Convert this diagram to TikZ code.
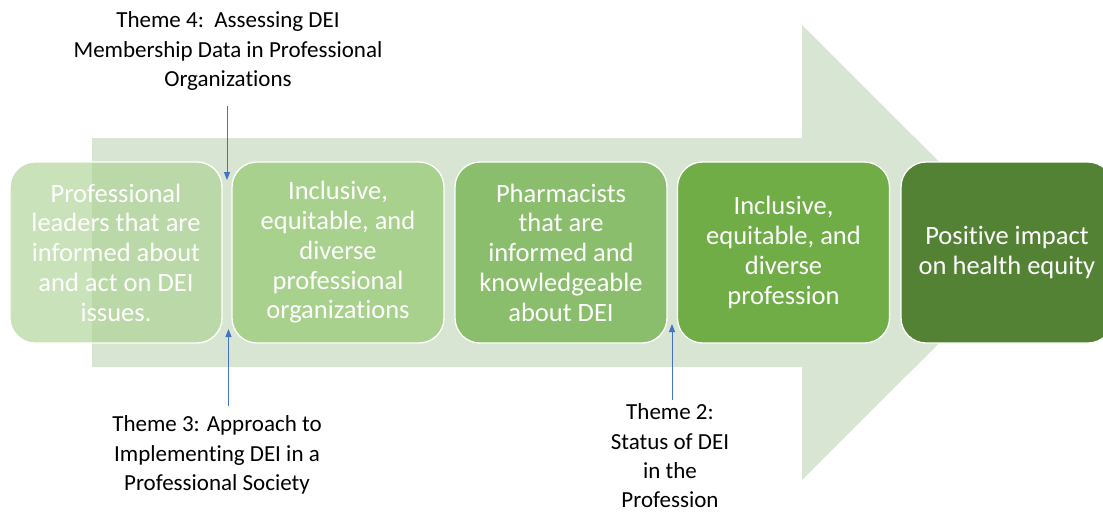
\documentclass[tikz,border=0pt]{standalone}
\usepackage{fontspec}
\setmainfont{Carlito}[Ligatures=NoCommon]
\usetikzlibrary{arrows.meta}
\definecolor{arrowfill}{RGB}{217,229,211}
\definecolor{boxA}{RGB}{169,209,142}
\definecolor{boxB}{RGB}{169,209,142}
\definecolor{boxC}{RGB}{138,190,108}
\definecolor{boxD}{RGB}{112,173,71}
\definecolor{boxE}{RGB}{84,130,53}
\definecolor{pointerblue}{RGB}{68,114,196}
\begin{document}
\begin{tikzpicture}[x=1pt,y=-1pt,
  box/.style={draw=white, line width=1.3pt, rounded corners=25pt, minimum width=212pt, minimum height=181pt, inner sep=0pt, text=white, align=center, font=\fontsize{26.5}{29.75}\selectfont},
  theme/.style={align=center, text=black, font=\fontsize{23}{29.3}\selectfont, inner sep=0pt},
  pointer/.style={draw=pointerblue, line width=0.9pt, -{Triangle[length=8pt,width=6pt]}}]
\useasboundingbox (0,0) rectangle (1103,512);
% big background arrow
\fill[arrowfill] (92,138) -- (802,138) -- (802,25) -- (1030,252.5) -- (802,480) -- (802,367) -- (92,367) -- cycle;
% boxes
\node[box, fill=boxA, fill opacity=0.62, text opacity=1] (b1) at (116,252.5) {Professional\\leaders that are\\informed about\\and act on DEI\\issues.};
\node[box, fill=boxB] (b2) at (338,252.5) {Inclusive,\\equitable, and\\diverse\\professional\\organizations};
\node[box, fill=boxC] (b3) at (561,252.5) {Pharmacists\\that are\\informed and\\knowledgeable\\about DEI};
\node[box, fill=boxD] (b4) at (783.5,252.5) {Inclusive,\\equitable, and\\diverse\\profession};
\node[box, fill=boxE] (b5) at (1007,252.5) {Positive impact\\on health equity};
% theme labels
\node[theme] (t4) at (228,51) {Theme 4:\ \ Assessing DEI\\Membership Data in Professional\\Organizations};
\node[theme] (t3) at (217,455) {Theme 3: Approach to\\Implementing DEI in a\\Professional Society};
\node[theme] (t2) at (670,456) {Theme 2:\\Status of DEI\\in the\\Profession};
% pointers
\coordinate (p4s) at (227,106);
\coordinate (p4e) at (227,180);
\coordinate (p3s) at (228.5,406);
\coordinate (p3e) at (228.5,329);
\coordinate (p2s) at (672,400);
\coordinate (p2e) at (672,324);
\draw[pointer] (p4s) -- (p4e);
\draw[pointer] (p3s) -- (p3e);
\draw[pointer] (p2s) -- (p2e);
\end{tikzpicture}
\end{document}
